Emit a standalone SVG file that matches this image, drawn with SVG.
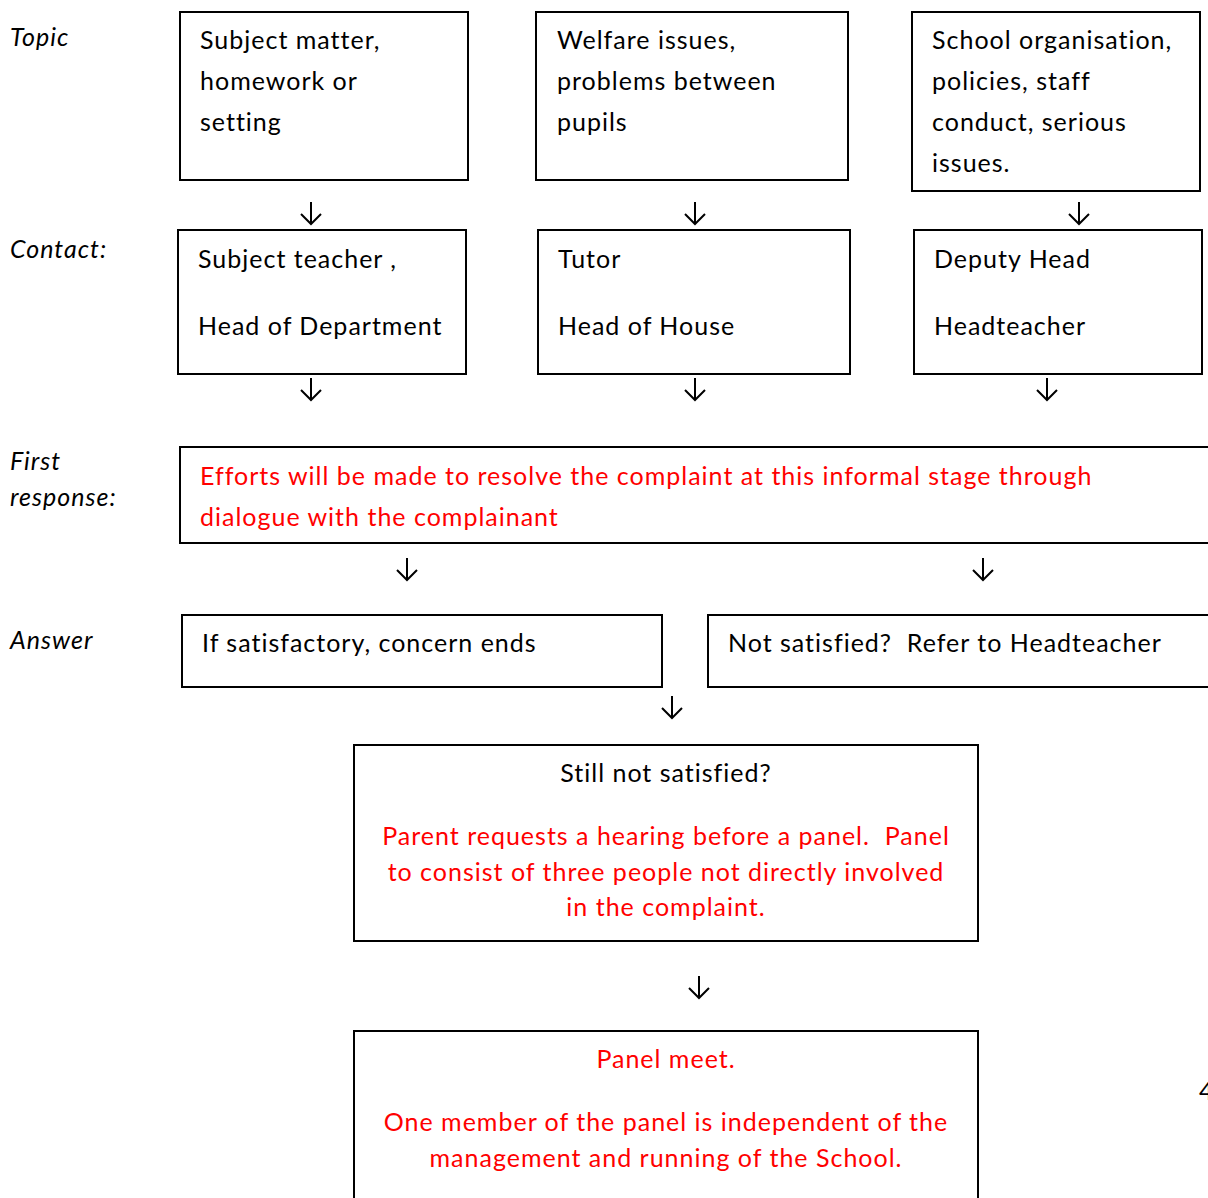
<svg xmlns="http://www.w3.org/2000/svg" width="1208" height="1198" viewBox="0 0 1208 1198">
<style>
text{font-family:Lato,"Open Sans","Liberation Sans",sans-serif;font-size:25px;letter-spacing:1px;fill:#000}
.lab{font-style:italic}
.red{fill:#FF0000}
.c{text-anchor:middle}
rect{fill:#fff;stroke:#000;stroke-width:2}
.arr{fill:none;stroke:#000;stroke-width:2}
</style>
<rect x="0" y="0" width="1208" height="1198" style="stroke:none"/>
<g id="labels">
<text class="lab" x="10" y="46">Topic</text>
<text class="lab" x="10" y="258">Contact:</text>
<text class="lab" x="10" y="470">First</text>
<text class="lab" x="10" y="506">response:</text>
<text class="lab" x="10" y="649">Answer</text>
</g>
<g id="topic1"><rect x="180" y="12" width="288" height="168"/>
<text x="200" y="49">Subject matter,</text><text x="200" y="90">homework or</text><text x="200" y="131">setting</text></g>
<g id="topic2"><rect x="536" y="12" width="312" height="168"/>
<text x="557" y="49">Welfare issues,</text><text x="557" y="90">problems between</text><text x="557" y="131">pupils</text></g>
<g id="topic3"><rect x="912" y="12" width="288" height="179"/>
<text x="932" y="49">School organisation,</text><text x="932" y="90">policies, staff</text><text x="932" y="131">conduct, serious</text><text x="932" y="172">issues.</text></g>
<g id="contact1"><rect x="178" y="230" width="288" height="144"/>
<text x="198" y="268">Subject teacher ,</text><text x="198" y="335">Head of Department</text></g>
<g id="contact2"><rect x="538" y="230" width="312" height="144"/>
<text x="558" y="268">Tutor</text><text x="558" y="335">Head of House</text></g>
<g id="contact3"><rect x="914" y="230" width="288" height="144"/>
<text x="934" y="268">Deputy Head</text><text x="934" y="335">Headteacher</text></g>
<g id="first"><rect x="180" y="447" width="1040" height="96"/>
<text class="red" x="200" y="485">Efforts will be made to resolve the complaint at this informal stage through</text>
<text class="red" x="200" y="526">dialogue with the complainant</text></g>
<g id="answer1"><rect x="182" y="615" width="480" height="72"/>
<text x="202" y="652">If satisfactory, concern ends</text></g>
<g id="answer2"><rect x="708" y="615" width="520" height="72"/>
<text x="728" y="652" xml:space="preserve">Not satisfied?  Refer to Headteacher</text></g>
<g id="still"><rect x="354" y="745" width="624" height="196"/>
<text class="c" x="666" y="782">Still not satisfied?</text>
<text class="c red" x="666" y="845" xml:space="preserve">Parent requests a hearing before a panel.  Panel</text>
<text class="c red" x="666" y="881">to consist of three people not directly involved</text>
<text class="c red" x="666" y="916">in the complaint.</text></g>
<g id="panel"><rect x="354" y="1031" width="624" height="200"/>
<text class="c red" x="666" y="1068">Panel meet.</text>
<text class="c red" x="666" y="1131">One member of the panel is independent of the</text>
<text class="c red" x="666" y="1167">management and running of the School.</text></g>
<g id="connectors">
<path class="arr" d="M311 202V224M301 214L311 224L321 214"/>
<path class="arr" d="M695 202V224M685 214L695 224L705 214"/>
<path class="arr" d="M1079 202V224M1069 214L1079 224L1089 214"/>
<path class="arr" d="M311 378V400M301 390L311 400L321 390"/>
<path class="arr" d="M695 378V400M685 390L695 400L705 390"/>
<path class="arr" d="M1047 378V400M1037 390L1047 400L1057 390"/>
<path class="arr" d="M407 558V580M397 570L407 580L417 570"/>
<path class="arr" d="M983 558V580M973 570L983 580L993 570"/>
<path class="arr" d="M672 696V718M662 708L672 718L682 708"/>
<path class="arr" d="M699 976V998M689 988L699 998L709 988"/>
</g>
<text x="1199" y="1100">4</text>
</svg>
